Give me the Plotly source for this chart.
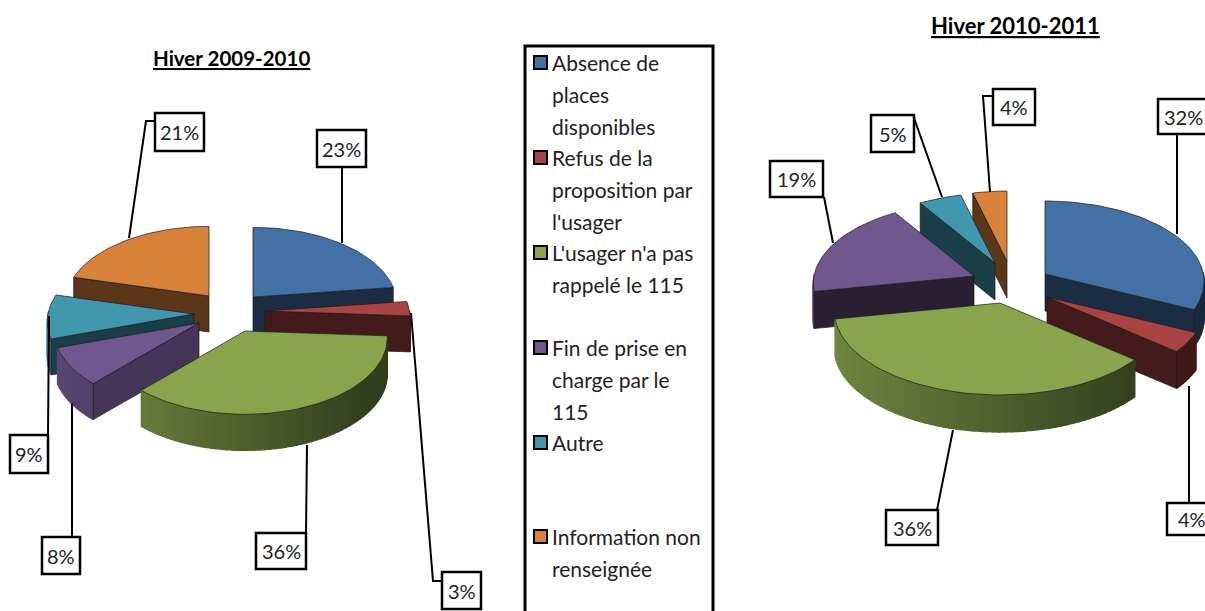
import math
import plotly.graph_objects as go

# ---- data ----
categories = ["Absence de places disponibles", "Refus de la proposition par l'usager",
              "L'usager n'a pas rappelé le 115", "Fin de prise en charge par le 115",
              "Autre", "Information non renseignée"]
values_2009 = [23, 3, 36, 8, 9, 21]
values_2010 = [32, 4, 36, 19, 5, 4]
title_2009 = "Hiver 2009-2010"
title_2010 = "Hiver 2010-2011"
colors = ["#4471a5", "#a84543", "#88a44d", "#70578e", "#4097ae", "#d9823c"]

legend_lines = [
    ["Absence de", "places", "disponibles"],
    ["Refus de la", "proposition par", "l'usager"],
    ["L'usager n'a pas", "rappelé le 115"],
    ["Fin de prise en", "charge par le", "115"],
    ["Autre"],
    ["Information non", "renseignée"],
]
legend_rows = [[62, 94, 126], [157, 189, 221], [252, 284], [347, 379, 411], [442], [536, 568]]

# ---- layout of the 3D-look pies (pixel canvas) ----
FONT = "Lato"
W, H = 1205, 611
pies = [
    dict(values=values_2009, rx=146, ry=78.5, depth=36,
         apex=[(253, 297), (265, 311), (245, 331), (199, 323), (194, 314), (209, 296)],
         scale=[.98, .99, .97, .99, 1, .98],
         order=[5, 0, 4, 1, 3, 2], face=[.40, .40, .40, .62, .42, .42]),
    dict(values=values_2010, rx=165, ry=84, depth=37,
         apex=[(1045, 274), (1047, 297), (1000, 303), (974, 276), (995, 263), (1007, 261)],
         scale=[.96, .96, 1, .97, .92, .92],
         order=[5, 4, 3, 0, 1, 2], face=[.40, .40, .40, .37, .42, .42]),
]
PERSP = 0.095

callouts = [
    ("23%", (317, 130, 366, 167), [(342, 167), (342, 243)]),
    ("3%", (442, 572, 481, 609), [(411, 313), (433, 581), (442, 581)]),
    ("36%", (256, 533, 306, 569), [(307, 445), (306, 533)]),
    ("8%", (42, 537, 80, 574), [(72, 403), (72, 537)]),
    ("9%", (10, 435, 48, 473), [(49, 316), (48, 435)]),
    ("21%", (155, 113, 204, 151), [(129, 238), (146, 121), (155, 121)]),
    ("32%", (1158, 99, 1230, 134), [(1177, 134), (1177, 234)]),
    ("4%", (1167, 503, 1230, 535), [(1189, 386), (1189, 503)]),
    ("36%", (886, 510, 938, 545), [(953, 430), (937, 510)]),
    ("19%", (770, 161, 823, 197), [(833, 243), (824, 197)]),
    ("5%", (871, 115, 914, 152), [(942, 197), (914, 118)]),
    ("4%", (993, 89, 1035, 125), [(990, 192), (983, 96), (993, 96)]),
]


def shade(hex_color, f):
    r, g, b = (int(hex_color[i:i + 2], 16) for i in (1, 3, 5))
    return f"rgb({int(r * f)},{int(g * f)},{int(b * f)})"


def rim(a, th, rx, ry):
    s = 1 - PERSP * math.cos(th)
    return a[0] + rx * s * math.sin(th), a[1] - ry * s * math.cos(th)


def poly(fig, pts, fill, line="#1a1a1a", width=0.7):
    xs = [p[0] for p in pts] + [pts[0][0]]
    ys = [p[1] for p in pts] + [pts[0][1]]
    fig.add_trace(go.Scatter(x=xs, y=ys, mode="lines", fill="toself", fillcolor=fill,
                             line=dict(color=line, width=width), hoverinfo="skip"))


fig = go.Figure()

for pie in pies:
    total = sum(pie["values"])
    bounds = [0]
    for v in pie["values"]:
        bounds.append(bounds[-1] + v / total * 2 * math.pi)
    d = pie["depth"]
    for i in pie["order"]:
        a = pie["apex"][i]
        rx, ry = pie["rx"] * pie["scale"][i], pie["ry"] * pie["scale"][i]
        t0, t1 = bounds[i], bounds[i + 1]
        n = max(3, int((t1 - t0) / math.radians(2)))
        ths = [t0 + (t1 - t0) * k / n for k in range(n + 1)]
        arc = [rim(a, t, rx, ry) for t in ths]
        col = colors[i]
        face = shade(col, pie["face"][i])
        # outer wall, shaded left to right
        for k in range(n):
            mid = (ths[k] + ths[k + 1]) / 2
            if math.cos(mid) > 0.03:
                continue
            c = shade(col, max(.38, .58 - .25 * math.sin(mid)))
            p, q = arc[k], arc[k + 1]
            poly(fig, [p, q, (q[0], q[1] + d), (p[0], p[1] + d)], c, line=c, width=1.3)
        # radial cut faces that look toward the viewer
        if math.sin(t0) < 0:
            p = arc[0]
            poly(fig, [a, p, (p[0], p[1] + d), (a[0], a[1] + d)], face)
        if math.sin(t1) > 0:
            p = arc[-1]
            poly(fig, [a, p, (p[0], p[1] + d), (a[0], a[1] + d)], face)
        # top face
        poly(fig, [a] + arc, col)

# leader lines
for label, box, path in callouts:
    fig.add_trace(go.Scatter(x=[p[0] for p in path], y=[p[1] for p in path], mode="lines",
                             line=dict(color="black", width=2), hoverinfo="skip"))

shapes, annotations = [], []
for label, (x0, y0, x1, y1), path in callouts:
    shapes.append(dict(type="rect", x0=x0, y0=y0, x1=x1, y1=y1, xref="x", yref="y",
                       line=dict(color="black", width=2.5), fillcolor="white", layer="above"))
    tx = x0 + 25 if x1 > W else (x0 + x1) / 2
    annotations.append(dict(x=tx, y=(y0 + y1) / 2, xref="x", yref="y", text=label, showarrow=False,
                            font=dict(family=FONT, size=20, color="#222222")))

for text, x, y, size in [(title_2009, 231.5, 58, 20.5), (title_2010, 1015, 25, 22)]:
    annotations.append(dict(x=x, y=y, xref="x", yref="y", text=f"<b><u>{text}</u></b>", showarrow=False,
                            font=dict(family=FONT, size=size, color="black")))

# legend panel
shapes.append(dict(type="rect", x0=525, y0=46, x1=713, y1=640, xref="x", yref="y",
                   line=dict(color="black", width=3), fillcolor="rgba(0,0,0,0)", layer="above"))
for lines, rows, col in zip(legend_lines, legend_rows, colors):
    shapes.append(dict(type="rect", x0=534, y0=rows[0] - 6, x1=547, y1=rows[0] + 7, xref="x", yref="y",
                       line=dict(color="black", width=2), fillcolor=col, layer="above"))
    for t, y in zip(lines, rows):
        annotations.append(dict(x=550, y=y, xref="x", yref="y", text=t, showarrow=False, xanchor="left",
                                font=dict(family=FONT, size=21, color="#222222")))

fig.update_layout(
    width=W, height=H, margin=dict(l=0, r=0, t=0, b=0), showlegend=False, hovermode=False,
    paper_bgcolor="white", plot_bgcolor="white", shapes=shapes, annotations=annotations,
    xaxis=dict(range=[0, W], visible=False, fixedrange=True),
    yaxis=dict(range=[H, 0], visible=False, fixedrange=True),
)
fig.write_html("out.html", config=dict(displayModeBar=False),
               post_script="document.body.style.margin='0';document.body.style.overflow='hidden';")
